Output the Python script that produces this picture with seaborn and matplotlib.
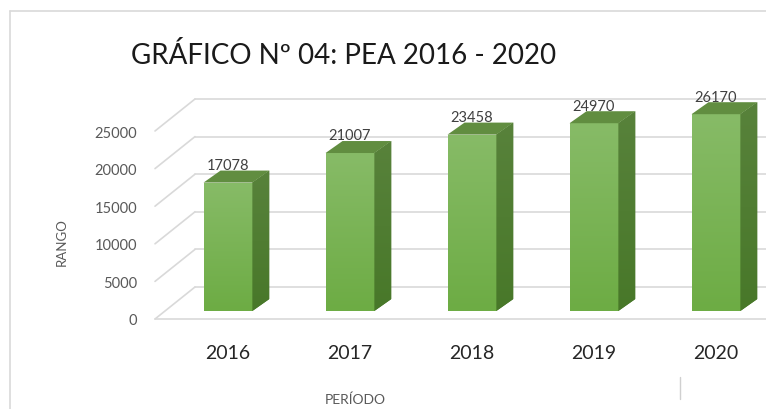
import matplotlib
matplotlib.use('Agg')
import matplotlib.pyplot as plt
import matplotlib.transforms as mtransforms
from matplotlib.patches import Polygon
from matplotlib.lines import Line2D
from matplotlib.colors import LinearSegmentedColormap
import numpy as np
import pandas as pd
import seaborn as sns

periodos = ['2016', '2017', '2018', '2019', '2020']
pea = [17078, 21007, 23458, 24970, 26170]
ticks_y = [0, 5000, 10000, 15000, 20000, 25000]

df = pd.DataFrame({'periodo': periodos, 'pea': pea})

sns.set_style('white')
plt.rcParams['font.family'] = ['Lato', 'DejaVu Sans']

W, H = 766, 410
fig = plt.figure(figsize=(W / 100, H / 100), dpi=100)

# eje = plano frontal del grafico 3D (0 en y=320 px, 25000 en y=132 px)
ax = fig.add_axes([155 / W, (H - 320) / H, (W - 155) / W, 220 / H])
ax = sns.barplot(data=df, x='periodo', y='pea', color='#77b150', saturation=1,
                 width=0.4, ax=ax, zorder=3)
xmin = -0.598
xmax = xmin + (W - 155) / 122
ymax = 220 / 7.52 * 1000
ax.set_xlim(xmin, xmax)
ax.set_ylim(0, ymax)

# pixeles -> unidades de datos
px_x = ax.bbox.width / (xmax - xmin)
px_y = ax.bbox.height / ymax


def dx(p):
    return p / px_x


def dy(p):
    return p / px_y


# paredes (lineas de fondo)
grid_c = '#d9d9d9'
for t in ticks_y:
    ax.plot([xmin, xmin + dx(40)], [t, t + dy(32)], color=grid_c, lw=1.2, clip_on=False, zorder=1)
    ax.plot([xmin + dx(40), xmax + dx(40)], [t + dy(32)] * 2, color=grid_c, lw=1.2,
            clip_on=False, zorder=1)
ax.plot([xmin, xmax], [0, 0], color=grid_c, lw=1.2, clip_on=False, zorder=1)

# barras con efecto 3D
bar_tr = ax.transData + mtransforms.ScaledTranslation(0, 8 / 100, fig.dpi_scale_trans)
ddx, ddy = dx(17), dy(12)
cm_front = LinearSegmentedColormap.from_list('front', ['#6dac44', '#87bb67'])
cm_side = LinearSegmentedColormap.from_list('side', ['#487829', '#58823b'])
grad = np.linspace(0, 1, 100).reshape(-1, 1)

for p in list(ax.patches):
    x0, w, h = p.get_x(), p.get_width(), p.get_height()
    p.set_transform(bar_tr)
    p.set_edgecolor('none')
    p.set_clip_on(False)
    im = ax.imshow(grad, cmap=cm_front, origin='lower', aspect='auto',
                   extent=[x0, x0 + w, 0, h], transform=bar_tr, zorder=3.1)
    im.set_clip_path(p)
    side = Polygon([(x0 + w, 0), (x0 + w + ddx, ddy), (x0 + w + ddx, h + ddy), (x0 + w, h)],
                   closed=True, facecolor='#4d792f', edgecolor='none', transform=bar_tr,
                   clip_on=False, zorder=3)
    ax.add_patch(side)
    im2 = ax.imshow(grad, cmap=cm_side, origin='lower', aspect='auto',
                    extent=[x0 + w, x0 + w + ddx, 0, h + ddy], transform=bar_tr, zorder=3.1)
    im2.set_clip_path(side)
    top = Polygon([(x0, h), (x0 + ddx, h + ddy), (x0 + w + ddx, h + ddy), (x0 + w, h)],
                  closed=True, facecolor='#618d40', edgecolor='none', transform=bar_tr,
                  clip_on=False, zorder=3.2)
    ax.add_patch(top)

ax.set_xlim(xmin, xmax)
ax.set_ylim(0, ymax)

for i, v in enumerate(pea):
    ax.annotate(f'{v}', xy=(i, v + ddy), xycoords=bar_tr, xytext=(0, -1),
                textcoords='offset points', ha='center', va='bottom',
                fontsize=10.5, color='#404040', zorder=5, annotation_clip=False)

sns.despine(ax=ax, left=True, bottom=True)
ax.set_yticks(ticks_y)
ax.set_xticks(range(len(periodos)))
ax.set_xticklabels(periodos)
ax.tick_params(axis='y', length=0, pad=13, labelsize=10.5, labelcolor='#595959')
ax.tick_params(axis='x', length=0, pad=18, labelsize=14, labelcolor='#262626')
ax.set_ylabel('RANGO', fontsize=9.5, color='#595959')
ax.set_xlabel('PERÍODO', fontsize=10, color='#595959')
ax.yaxis.set_label_coords((68 - 155) / (W - 155), (320 - 242) / 220)
ax.xaxis.set_label_coords((355 - 155) / (W - 155), (320 - 394) / 220)
ax.patch.set_alpha(0)

fig.text(344 / W, 1 - 55 / H, 'GRÁFICO Nº 04: PEA 2016 - 2020', ha='center', va='center',
         fontsize=20, color='#1a1a1a')

# marco del grafico
fig.add_artist(Line2D([10 / W, 10 / W], [0, 1 - 12 / H], color='#d9d9d9', lw=1.2))
fig.add_artist(Line2D([10 / W, 1], [1 - 12 / H, 1 - 12 / H], color='#d9d9d9', lw=1.2))
fig.add_artist(Line2D([680 / W, 680 / W], [1 - 400 / H, 1 - 378 / H], color='#d0d0d0', lw=1))

fig.savefig('out.png', dpi=100)
